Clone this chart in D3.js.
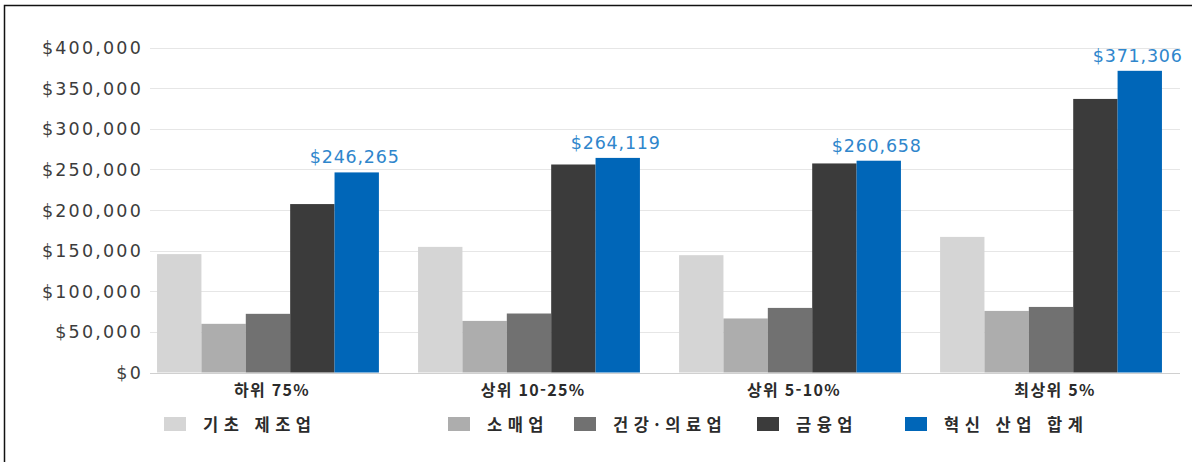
<!DOCTYPE html>
<html lang="ko">
<head>
    <meta charset="UTF-8">
    <title>혁신 산업 소득</title>
    <script src="https://d3js.org/d3.v7.min.js"></script>
    <style>
        body { margin: 0; background: #fff; }
        text { font-family: "DejaVu Sans", "Noto Sans CJK KR", sans-serif; }
        .kr { font-family: "Noto Sans CJK KR", "DejaVu Sans", sans-serif; }
    </style>
</head>
<body>
<div id="chart"></div>
<script>
    // categories and series
    const groups = ["하위 75%", "상위 10-25%", "상위 5-10%", "최상위 5%"];
    const industries = ["기초 제조업", "소매업", "건강·의료업", "금융업", "혁신 산업 합계"];
    const basicMfg = [145700, 154600, 144400, 166900];
    const retail = [59900, 63500, 66500, 75800];
    const health = [72200, 72600, 79500, 80700];
    const finance = [207300, 256000, 257300, 336700];
    const innovation = [246265, 264119, 260658, 371306];
    const yTicks = [0, 50000, 100000, 150000, 200000, 250000, 300000, 350000, 400000];

    const colors = ["#d5d5d5", "#adadad", "#717171", "#3b3b3b", "#0066b8"];
    const legendX = [164, 448, 574, 757, 905];

    const width = 1192, height = 463;
    const series = [basicMfg, retail, health, finance, innovation];

    const svg = d3.select("#chart").append("svg")
        .attr("width", width)
        .attr("height", height);

    // frame (only top and left edge show in the crop)
    svg.append("path")
        .attr("d", "M4.5,462 V5.5 H1192")
        .attr("fill", "none")
        .attr("stroke", "#111")
        .attr("stroke-width", 1.5);

    const y = d3.scaleLinear().domain([0, 400000]).range([372.5, 47.5]);
    const x0 = d3.scaleBand().domain(groups).range([150, 1169])
        .paddingInner(0.15).paddingOuter(0.027);
    const x1 = d3.scaleBand().domain(d3.range(industries.length))
        .range([0, x0.bandwidth()]);

    // gridlines
    svg.append("g").selectAll("line")
        .data(yTicks)
        .join("line")
        .attr("x1", 150).attr("x2", 1180)
        .attr("y1", d => Math.round(y(d)) + 0.5)
        .attr("y2", d => Math.round(y(d)) + 0.5)
        .attr("stroke", d => d === 0 ? "#d0d0d0" : "#e6e6e6")
        .attr("stroke-width", 1.2);

    // y tick labels
    svg.append("g").selectAll("text")
        .data(yTicks)
        .join("text")
        .attr("x", 143)
        .attr("y", d => y(d) + 6.5)
        .attr("text-anchor", "end")
        .attr("font-size", 17.5)
        .attr("letter-spacing", 2.2)
        .attr("fill", "#3c3c3c")
        .text(d => "$" + d3.format(",")(d));

    // bars
    const g = svg.append("g").selectAll("g")
        .data(groups)
        .join("g")
        .attr("transform", d => `translate(${x0(d)},0)`);

    g.selectAll("rect")
        .data((d, gi) => series.map((s, si) => ({si: si, v: s[gi]})))
        .join("rect")
        .attr("x", d => x1(d.si))
        .attr("width", x1.bandwidth())
        .attr("y", d => y(d.v))
        .attr("height", d => y(0) - y(d.v))
        .attr("fill", d => colors[d.si]);

    // totals above the blue bars
    g.append("text")
        .attr("x", x1(4) + x1.bandwidth() / 2 - 2)
        .attr("y", (d, gi) => y(innovation[gi]) - 9)
        .attr("text-anchor", "middle")
        .attr("font-size", 17.5)
        .attr("letter-spacing", 0.8)
        .attr("fill", "#2f86cc")
        .text((d, gi) => "$" + d3.format(",")(innovation[gi]));

    // category labels
    svg.append("g").selectAll("text")
        .data(groups)
        .join("text")
        .attr("class", "kr")
        .attr("x", d => x0(d) + x0.bandwidth() / 2 + 4)
        .attr("y", 396)
        .attr("text-anchor", "middle")
        .attr("font-size", 16)
        .attr("font-weight", "bold")
        .attr("letter-spacing", 1.3)
        .attr("fill", "#2b2b2b")
        .text(d => d);

    // legend
    const lg = svg.append("g").selectAll("g")
        .data(industries)
        .join("g")
        .attr("transform", (d, i) => `translate(${legendX[i]},417)`);

    lg.append("rect")
        .attr("width", 22).attr("height", 14)
        .attr("fill", (d, i) => colors[i]);

    lg.append("text")
        .attr("class", "kr")
        .attr("x", 39)
        .attr("y", 13.5)
        .attr("font-size", 16.5)
        .attr("font-weight", "bold")
        .attr("letter-spacing", 5.5)
        .attr("fill", "#2b2b2b")
        .text(d => d);
</script>
</body>
</html>
